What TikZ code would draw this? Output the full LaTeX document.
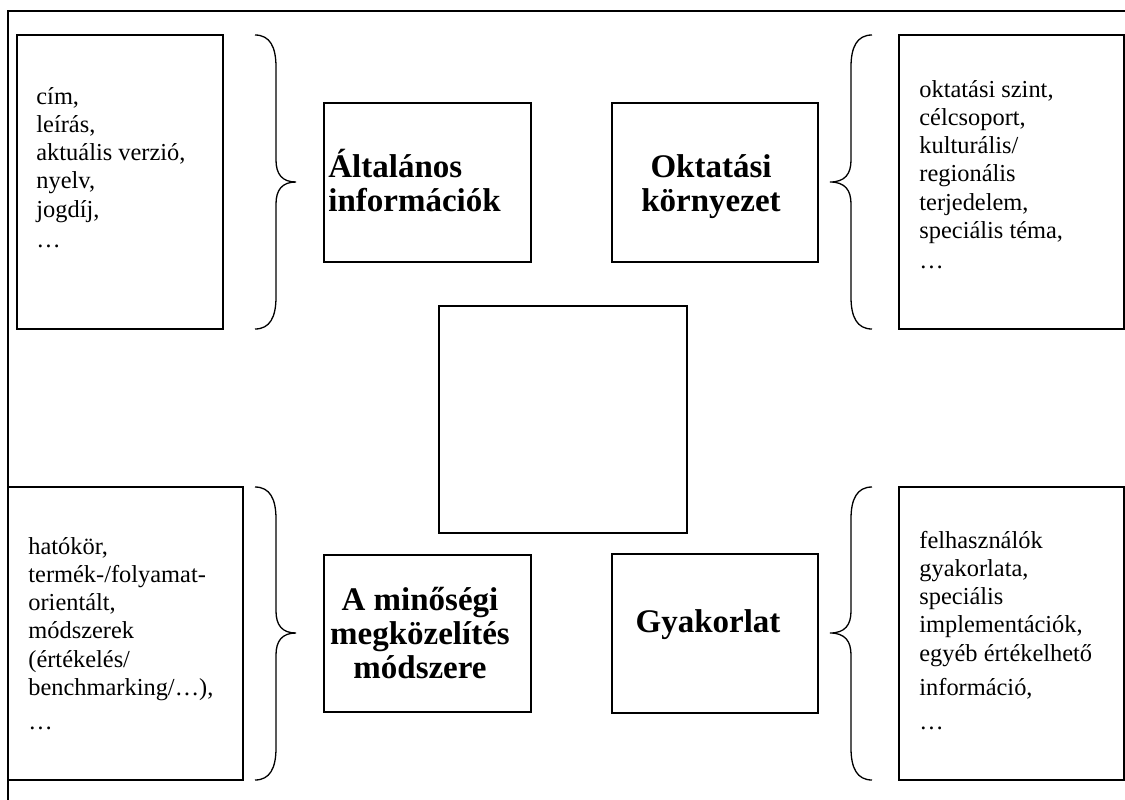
\documentclass[tikz,border=0pt]{standalone}
\usepackage{fontspec}
\setmainfont{Liberation Serif}
\newcommand\myBraceR[3]{%
  \draw[brace] (255,#1) .. controls (270,#1) and (276,#1+12) .. (276,#1+32)
    -- (276,#3-22) .. controls (276,#3-8) and (282,#3) .. (296,#3)
    .. controls (282,#3) and (276,#3+8) .. (276,#3+22)
    -- (276,#2-32) .. controls (276,#2-12) and (270,#2) .. (255,#2);}
\newcommand\myBraceL[3]{%
  \draw[brace] (872,#1) .. controls (857,#1) and (851,#1+12) .. (851,#1+32)
    -- (851,#3-22) .. controls (851,#3-8) and (845,#3) .. (830,#3)
    .. controls (845,#3) and (851,#3+8) .. (851,#3+22)
    -- (851,#2-32) .. controls (851,#2-12) and (857,#2) .. (872,#2);}
\begin{document}
\begin{tikzpicture}[x=0.5pt,y=-0.5pt,
  box/.style={draw, line width=0.75pt, inner sep=0pt, outer sep=0pt},
  txt/.style={inner sep=0pt, anchor=base west, font=\fontsize{12.2pt}{14.15pt}\selectfont},
  lbl/.style={inner sep=0pt, anchor=base, font=\fontsize{16.5pt}{17pt}\selectfont\bfseries},
  brace/.style={draw, line width=0.65pt}]
\useasboundingbox (0,0) rectangle (1125,799);
\clip (0,0) rectangle (1125,799);
% outer frame (cropped)
\draw[line width=1pt] (8,830) -- (8,11) -- (1160,11);

% text boxes
\node[box, minimum width=103pt, minimum height=147pt] (tlbox) at (120,182) {};
\node[box, minimum width=112.5pt, minimum height=147pt] (trbox) at (1011.5,182) {};
\node[box, minimum width=117.5pt, minimum height=146.5pt] (blbox) at (125.5,633.5) {};
\node[box, minimum width=112.5pt, minimum height=146.5pt] (brbox) at (1011.5,633.5) {};

% category boxes
\node[box, minimum width=103.5pt, minimum height=79.5pt] (gen) at (427.5,182.5) {};
\node[box, minimum width=103pt, minimum height=79.5pt] (okt) at (715,182.5) {};
\node[box, minimum width=103.5pt, minimum height=78.5pt] (min) at (427.5,633.5) {};
\node[box, minimum width=103pt, minimum height=79.5pt] (gyak) at (715,633.5) {};
\node[box, minimum width=124pt, minimum height=113.5pt] (ctr) at (563,419.5) {};

% labels
\node[lbl, anchor=base west] (genL) at (328,177) {\begin{tabular}[t]{@{}l@{}}Általános\\információk\end{tabular}};
\node[lbl] (oktL) at (711,177) {\begin{tabular}[t]{@{}c@{}}Oktatási\\környezet\end{tabular}};
\node[lbl] (minL) at (420,610) {\begin{tabular}[t]{@{}c@{}}A minőségi\\megközelítés\\módszere\end{tabular}};
\node[lbl] (gyakL) at (708,632) {Gyakorlat};

% list texts
\node[txt] (tlT) at (36,104) {\begin{tabular}[t]{@{}l@{}}cím,\\leírás,\\aktuális verzió,\\nyelv,\\jogdíj,\\[1pt]…\end{tabular}};
\node[txt] (trT) at (919,97) {\begin{tabular}[t]{@{}l@{}}oktatási szint,\\célcsoport,\\kulturális/\\regionális\\terjedelem,\\speciális téma,\\[1pt]…\end{tabular}};
\node[txt] (blT) at (28,554) {\begin{tabular}[t]{@{}l@{}}hatókör,\\termék-/folyamat-\\orientált,\\módszerek\\(értékelés/\\benchmarking/…),\\[3pt]…\end{tabular}};
\node[txt] (brT) at (919,548) {\begin{tabular}[t]{@{}l@{}}felhasználók\\gyakorlata,\\speciális\\implementációk,\\egyéb értékelhető\\[3pt]információ,\\[3pt]…\end{tabular}};

% braces
\myBraceR{35}{329}{182}
\myBraceR{487}{780}{633}
\myBraceL{35}{329}{182}
\myBraceL{487}{780}{633}
\end{tikzpicture}
\end{document}
